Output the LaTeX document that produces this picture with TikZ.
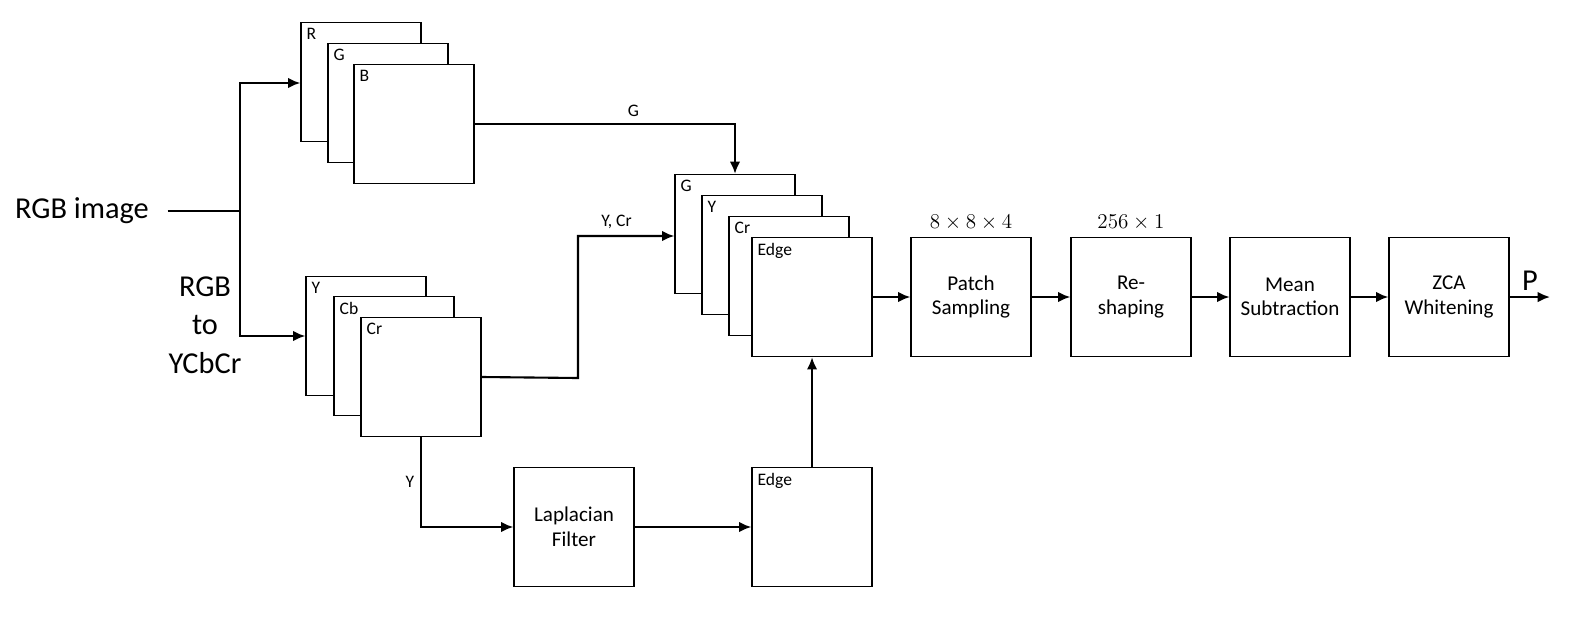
\documentclass[tikz,border=0pt]{standalone}
\usepackage{fontspec}
\setmainfont{Carlito}
\usetikzlibrary{arrows.meta,positioning}

\begin{document}
\begin{tikzpicture}[x=0.02cm,y=-0.02cm,line width=1.2pt,>={Latex[length=7pt,width=6pt]}]
\tikzstyle{blk}=[draw,fill=white,line width=0.8pt,minimum width=2.4cm,minimum height=2.38cm,inner sep=0pt,align=center,font=\large]
\tikzstyle{ch}=[blk,font=\normalsize]
\useasboundingbox (0,0) rectangle (1577,622);
% input
\node (in) at (82,211) {\LARGE RGB image};
\coordinate (split) at (240,211);
\node[align=center,font=\LARGE] (conv) at (205,325) {RGB\\to\\YCbCr};
% RGB stack
\node[ch,label={[anchor=north west,inner sep=3pt]north west:R}] (R) at (361,82) {};
\node[ch,label={[anchor=north west,inner sep=3pt]north west:G}] (Gc) at (388,103) {};
\node[ch,label={[anchor=north west,inner sep=3pt]north west:B}] (B) at (414,124) {};
% YCbCr stack
\node[ch,label={[anchor=north west,inner sep=3pt]north west:Y}] (Y) at (366,336) {};
\node[ch,label={[anchor=north west,inner sep=3pt]north west:Cb}] (Cb) at (394,356) {};
\node[ch,label={[anchor=north west,inner sep=3pt]north west:Cr}] (Cr) at (421,377) {};
% merged stack
\node[ch,label={[anchor=north west,inner sep=3pt]north west:G}] (mG) at (735,234) {};
\node[ch,label={[anchor=north west,inner sep=3pt]north west:Y}] (mY) at (762,255) {};
\node[ch,label={[anchor=north west,inner sep=3pt]north west:Cr}] (mCr) at (789,276) {};
\node[ch,label={[anchor=north west,inner sep=3pt]north west:Edge}] (mE) at (812,297) {};
% edge branch
\node[blk] (lap) at (574,527) {Laplacian\\Filter};
\node[ch,label={[anchor=north west,inner sep=3pt]north west:Edge}] (edge) at (812,527) {};
% pipeline
\node[blk,label={[font=\large]above:$8\times8\times4$}] (patch) at (971,297) {Patch\\Sampling};
\node[blk,label={[font=\large]above:$256\times1$}] (resh) at (1131,297) {Re-\\shaping};
\node[blk] (mean) at (1290,297) {Mean\\Subtraction};
\node[blk] (zca) at (1449,297) {ZCA\\Whitening};
\coordinate (out) at (1550,297);
% connectors
\draw (in.east) ++(12,0) -- (split);
\draw[->] (split) |- (R.west |- 0,83);
\draw[->] (split) |- (Y.west);
\draw[->] (B.east) -- (735,124) node[pos=0.61,above,font=\normalsize] {G} -- (mG.north);
\draw[->] (Cr.east) -- (578,378) -- (578,236) -- (mG.west |- 0,236) node[pos=0.4,above,font=\normalsize] {Y, Cr};
\draw[->] (Cr.south) |- (lap.west) node[pos=0.25,left,font=\normalsize] {Y};
\draw[->] (lap) -- (edge);
\draw[->] (edge) -- (mE);
\draw[->] (mE) -- (patch);
\draw[->] (patch) -- (resh);
\draw[->] (resh) -- (mean);
\draw[->] (mean) -- (zca);
\draw[->] (zca) -- (out) node[midway,above,font=\LARGE] {P};
\end{tikzpicture}
\end{document}
